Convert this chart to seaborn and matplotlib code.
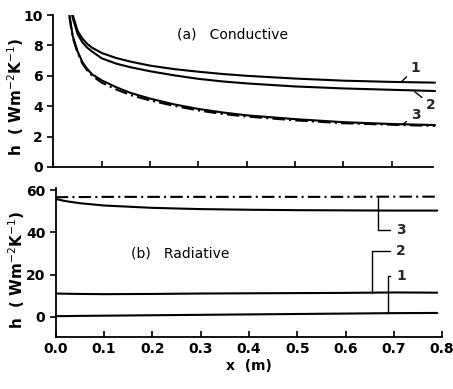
import matplotlib
matplotlib.use("Agg")
import matplotlib.pyplot as plt
import seaborn as sns

sns.set_theme(style="ticks")
plt.rcParams["font.family"] = ["DejaVu Sans"]

# (a) conductive
x_a = [0.033, 0.04, 0.05, 0.06, 0.07, 0.08, 0.1, 0.13, 0.16, 0.2, 0.25, 0.3, 0.35, 0.4, 0.5, 0.6, 0.7, 0.79]
h1_a = [11.2, 10.0, 8.95, 8.45, 8.1, 7.85, 7.5, 7.17, 6.93, 6.67, 6.44, 6.27, 6.12, 6.0, 5.82, 5.68, 5.6, 5.55]
h2_a = [10.9, 9.8, 8.75, 8.2, 7.85, 7.6, 7.15, 6.8, 6.56, 6.3, 6.03, 5.8, 5.63, 5.5, 5.3, 5.17, 5.08, 5.0]
h3_a = [10.0, 8.6, 7.6, 6.9, 6.45, 6.1, 5.7, 5.25, 4.87, 4.5, 4.12, 3.82, 3.59, 3.4, 3.15, 2.95, 2.83, 2.76]
h3_a_dd = [9.9, 8.5, 7.5, 6.8, 6.35, 6.0, 5.55, 5.1, 4.73, 4.38, 4.02, 3.72, 3.49, 3.32, 3.07, 2.88, 2.78, 2.7]

# (b) radiative
x_b = [0.0, 0.02, 0.05, 0.1, 0.2, 0.3, 0.4, 0.5, 0.6, 0.7, 0.79]
h1_b = [0.3, 0.3, 0.4, 0.5, 0.7, 0.9, 1.1, 1.3, 1.5, 1.7, 1.8]
h2_b = [11.0, 10.9, 10.8, 10.7, 10.8, 11.0, 11.1, 11.2, 11.3, 11.5, 11.4]
h3_b = [55.8, 54.8, 53.8, 52.7, 51.6, 51.0, 50.7, 50.5, 50.4, 50.3, 50.3]
h3_b_dd = [56.6, 56.7, 56.7, 56.8, 56.8, 56.8, 56.8, 56.8, 56.8, 56.9, 56.9]

x_ticks = [0.0, 0.1, 0.2, 0.3, 0.4, 0.5, 0.6, 0.7, 0.8]
x_ticklabels = ["0.0", "0.1", "0.2", "0.3", "0.4", "0.5", "0.6", "0.7", "0.8"]
ya_ticks = [0, 2, 4, 6, 8, 10]
yb_ticks = [0, 20, 40, 60]

fig = plt.figure(figsize=(4.53, 3.89), dpi=100)
ax1 = fig.add_axes([0.118, 0.5707, 0.853, 0.3907])
ax2 = fig.add_axes([0.123, 0.1337, 0.853, 0.383])

lw = 1.5
k = "black"
dd = (6, 2, 1, 2)

sns.lineplot(x=x_a, y=h1_a, color=k, lw=lw, ax=ax1)
sns.lineplot(x=x_a, y=h2_a, color=k, lw=lw, ax=ax1)
sns.lineplot(x=x_a, y=h3_a, color=k, lw=lw, ax=ax1)
sns.lineplot(x=x_a, y=h3_a_dd, color=k, lw=lw, ax=ax1).lines[-1].set_dashes(dd)

sns.lineplot(x=x_b, y=h1_b, color=k, lw=lw, ax=ax2)
sns.lineplot(x=x_b, y=h2_b, color=k, lw=lw, ax=ax2)
sns.lineplot(x=x_b, y=h3_b, color=k, lw=lw, ax=ax2)
sns.lineplot(x=x_b, y=h3_b_dd, color=k, lw=lw, ax=ax2).lines[-1].set_dashes(dd)

fs = 10
for ax in (ax1, ax2):
    for s in ("top", "right"):
        ax.spines[s].set_visible(False)
    for s in ("left", "bottom"):
        ax.spines[s].set_color(k)
        ax.spines[s].set_linewidth(1.3)
    ax.set_xlim(0, 0.8)
    ax.tick_params(axis="x", direction="in", length=4, width=1.2, colors=k)
    ax.tick_params(axis="y", direction="out", length=4, width=1.2, colors=k)
    ax.set_ylabel("h  ( Wm$^{-2}$K$^{-1}$)", fontsize=11, fontweight="bold", color=k)

ax1.set_ylim(0, 10)
ax1.set_xticks(x_ticks[:-1])
ax1.set_xticklabels([])
ax1.set_yticks(ya_ticks)
ax1.set_yticklabels([str(v) for v in ya_ticks], fontsize=fs, fontweight="bold")
ax1.spines["bottom"].set_bounds(0, 0.785)
ax1.yaxis.set_label_coords(-0.07, 0.46)

ax2.set_ylim(-9.6, 61)
ax2.set_xticks(x_ticks)
ax2.set_xticklabels(x_ticklabels, fontsize=fs, fontweight="bold")
ax2.set_yticks(yb_ticks)
ax2.set_yticklabels([str(v) for v in yb_ticks], fontsize=fs, fontweight="bold")
ax2.set_xlabel("x  (m)", fontsize=fs, fontweight="bold", color=k, labelpad=2)
ax2.yaxis.set_label_coords(-0.075, 0.45)

ax1.text(0.255, 8.7, "(a)   Conductive", fontsize=fs, color=k, va="center")
ax2.text(0.155, 30, "(b)   Radiative", fontsize=fs, color=k, va="center")

line = dict(arrowstyle="-", color=k, lw=1.0, shrinkA=1, shrinkB=0)
ax1.annotate("1", xy=(0.72, 5.6), xytext=(0.74, 6.5), fontsize=fs, fontweight="bold",
             ha="left", va="center", arrowprops=line)
ax1.annotate("2", xy=(0.748, 4.95), xytext=(0.772, 4.1), fontsize=fs, fontweight="bold",
             ha="left", va="center", arrowprops=line)
ax1.annotate("3", xy=(0.725, 2.85), xytext=(0.74, 3.45), fontsize=fs, fontweight="bold",
             ha="left", va="center", arrowprops=line)

bracket = dict(arrowstyle="-", color=k, lw=1.0, shrinkA=2, shrinkB=0,
               connectionstyle="angle,angleA=0,angleB=90,rad=0")
ax2.annotate("3", xy=(0.668, 56.8), xytext=(0.705, 41), fontsize=fs, fontweight="bold",
             ha="left", va="center", arrowprops=bracket)
ax2.annotate("2", xy=(0.654, 11.4), xytext=(0.705, 31), fontsize=fs, fontweight="bold",
             ha="left", va="center", arrowprops=bracket)
ax2.annotate("1", xy=(0.688, 1.6), xytext=(0.705, 19.5), fontsize=fs, fontweight="bold",
             ha="left", va="center", arrowprops=bracket)

fig.savefig("out.png", dpi=100, facecolor="white")
